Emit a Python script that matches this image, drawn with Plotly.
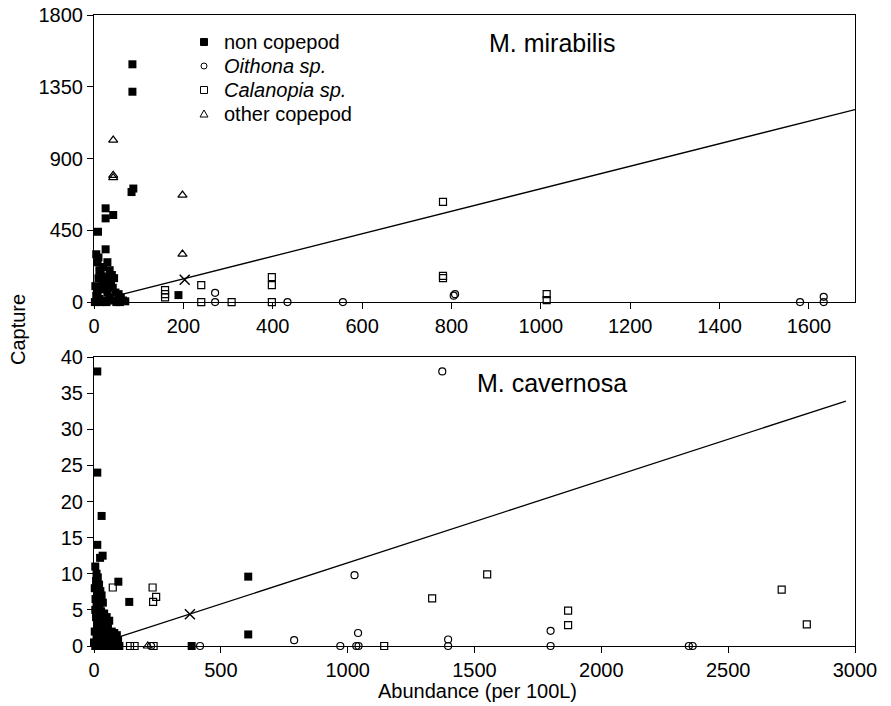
import plotly.graph_objects as go

# ---------------- Data: M. mirabilis (top panel) ----------------
top_noncop_x = [86, 86, 84, 88, 26, 26, 43, 9, 26, 189,
                5, 8, 12, 15, 10, 20, 25, 18, 30, 5, 12, 22, 28, 35, 40, 45, 38, 42,
                48, 35, 45, 50, 55, 60, 65, 58, 70, 3, 8, 15, 2, 25, 30, 10, 20, 33]
top_noncop_y = [1491, 1319, 690, 712, 588, 525, 546, 441, 331, 44,
                300, 250, 200, 180, 150, 120, 100, 80, 60, 40, 20, 10, 0, 200, 170, 150, 120, 90,
                60, 30, 10, 0, 50, 30, 10, 0, 5, 100, 60, 0, 0, 160, 250, 280, 220, 130]
top_oith_x = [271, 271, 433, 557, 805, 808, 1580, 1633, 1633]
top_oith_y = [58, 0, 0, 0, 40, 50, 0, 33, 0]
top_cala_x = [159, 159, 159, 240, 240, 308, 398, 398, 398, 781, 781, 781, 1013, 1013]
top_cala_y = [75, 50, 30, 107, 0, 0, 157, 107, 0, 629, 165, 150, 50, 12]
top_other_x = [43, 43, 43, 198, 198]
top_other_y = [1016, 795, 780, 671, 301]
top_fit_x = [47, 1703]
top_fit_y = [38, 1207]
top_mean_x = [203]
top_mean_y = [140]

# ---------------- Data: M. cavernosa (bottom panel) ----------------
bot_noncop_x = [13, 13, 30, 13, 24, 34, 96, 139, 608, 608, 385,
                5, 10, 15, 8, 20, 3, 12, 25, 18, 6, 30, 10, 22, 35, 5, 15, 28, 40, 50, 8,
                20, 45, 60, 12, 30, 55, 3, 18, 40, 70, 65, 80, 90, 10, 25, 50, 75, 95,
                5, 20, 35, 60, 85, 100, 0]
bot_noncop_y = [38, 24, 18, 14, 12.2, 12.5, 8.9, 6.1, 9.6, 1.6, 0,
                11, 10, 9.5, 9, 8.5, 8, 7.5, 7.6, 7, 6.5, 7, 6, 5.5, 6, 5, 4.5, 4.8, 4.5, 4, 4,
                3.5, 3, 3.5, 3, 2.5, 2.5, 2, 2, 1.8, 2, 1.5, 1.8, 1.5, 1, 1, 1, 1, 0.8,
                0, 0, 0, 0, 0, 0, 0.5]
bot_oith_x = [1373, 1027, 1041, 971, 1034, 1043, 1396, 1396, 1800, 1800, 789, 2345, 2360, 418, 30, 225]
bot_oith_y = [38, 9.8, 1.8, 0, 0, 0, 0.9, 0, 2.1, 0, 0.8, 0, 0, 0, 0, 0]
bot_cala_x = [1550, 1333, 1869, 1869, 1144, 2711, 2810, 74, 231, 245, 233, 142, 160, 235]
bot_cala_y = [9.9, 6.6, 4.9, 2.9, 0, 7.8, 3.0, 8.1, 8.1, 6.8, 6.1, 0, 0, 0]
bot_other_x = [212]
bot_other_y = [0]
bot_fit_x = [60, 2964]
bot_fit_y = [0.8, 33.9]
bot_mean_x = [378]
bot_mean_y = [4.4]

top_xticks = [0, 200, 400, 600, 800, 1000, 1200, 1400, 1600]
top_yticks = [0, 450, 900, 1350, 1800]
bot_xticks = [0, 500, 1000, 1500, 2000, 2500, 3000]
bot_yticks = [0, 5, 10, 15, 20, 25, 30, 35, 40]

legend_labels = ["non copepod", "<i>Oithona sp.</i>", "<i>Calanopia sp.</i>", "other copepod"]

FONT = "Liberation Sans, Arial, Helvetica, sans-serif"
BLACK = "black"

fig = go.Figure()


def add_panel(xa, ya, nc_x, nc_y, oi_x, oi_y, ca_x, ca_y, ot_x, ot_y,
              fx, fy, mx, my):
    fig.add_trace(go.Scatter(x=fx, y=fy, mode="lines", xaxis=xa, yaxis=ya,
                             line=dict(color=BLACK, width=1.3), showlegend=False,
                             hoverinfo="skip"))
    fig.add_trace(go.Scatter(x=nc_x, y=nc_y, mode="markers", xaxis=xa, yaxis=ya,
                             name=legend_labels[0], showlegend=False, cliponaxis=False,
                             marker=dict(symbol="square", size=8, color=BLACK,
                                         line=dict(color=BLACK, width=0))))
    fig.add_trace(go.Scatter(x=oi_x, y=oi_y, mode="markers", xaxis=xa, yaxis=ya,
                             name=legend_labels[1], showlegend=False, cliponaxis=False,
                             marker=dict(symbol="circle-open", size=7, color=BLACK,
                                         line=dict(color=BLACK, width=1.2))))
    fig.add_trace(go.Scatter(x=ca_x, y=ca_y, mode="markers", xaxis=xa, yaxis=ya,
                             name=legend_labels[2], showlegend=False, cliponaxis=False,
                             marker=dict(symbol="square-open", size=7, color=BLACK,
                                         line=dict(color=BLACK, width=1.2))))
    fig.add_trace(go.Scatter(x=ot_x, y=ot_y, mode="markers", xaxis=xa, yaxis=ya,
                             name=legend_labels[3], showlegend=False, cliponaxis=False,
                             marker=dict(symbol="triangle-up-open", size=8, color=BLACK,
                                         line=dict(color=BLACK, width=1.2))))
    fig.add_trace(go.Scatter(x=mx, y=my, mode="markers", xaxis=xa, yaxis=ya,
                             showlegend=False, cliponaxis=False,
                             marker=dict(symbol="x-thin-open", size=10, color=BLACK,
                                         line=dict(color=BLACK, width=1.5))))


add_panel("x", "y", top_noncop_x, top_noncop_y, top_oith_x, top_oith_y,
          top_cala_x, top_cala_y, top_other_x, top_other_y,
          top_fit_x, top_fit_y, top_mean_x, top_mean_y)
add_panel("x2", "y2", bot_noncop_x, bot_noncop_y, bot_oith_x, bot_oith_y,
          bot_cala_x, bot_cala_y, bot_other_x, bot_other_y,
          bot_fit_x, bot_fit_y, bot_mean_x, bot_mean_y)

axis_common = dict(showline=True, linecolor=BLACK, linewidth=1, mirror=True,
                   ticks="outside", ticklen=6, tickcolor=BLACK, showgrid=False,
                   zeroline=False, tickfont=dict(family=FONT, size=20, color=BLACK))

# ---- hand-drawn legend (layout shapes + text), in paper coordinates ----
PLOT_L, PLOT_W, PLOT_B, PLOT_H = 94, 761, 646, 631


def px_x(p):
    return (p - PLOT_L) / PLOT_W


def px_y(p):
    return (PLOT_B - p) / PLOT_H


leg_sym_x = px_x(204)
leg_txt_x = px_x(222)
leg_rows = [42, 66, 90, 114]

shapes = []
shapes.append(dict(type="rect", xref="paper", yref="paper", xsizemode="pixel", ysizemode="pixel",
                   xanchor=leg_sym_x, yanchor=px_y(leg_rows[0]), x0=-3.5, x1=3.5, y0=-3.5, y1=3.5,
                   fillcolor=BLACK, line=dict(color=BLACK, width=1)))
shapes.append(dict(type="circle", xref="paper", yref="paper", xsizemode="pixel", ysizemode="pixel",
                   xanchor=leg_sym_x, yanchor=px_y(leg_rows[1]), x0=-3, x1=3, y0=-3, y1=3,
                   fillcolor="white", line=dict(color=BLACK, width=1)))
shapes.append(dict(type="rect", xref="paper", yref="paper", xsizemode="pixel", ysizemode="pixel",
                   xanchor=leg_sym_x, yanchor=px_y(leg_rows[2]), x0=-3.5, x1=3.5, y0=-3.5, y1=3.5,
                   fillcolor="white", line=dict(color=BLACK, width=1)))
shapes.append(dict(type="path", xref="paper", yref="paper", xsizemode="pixel", ysizemode="pixel",
                   xanchor=leg_sym_x, yanchor=px_y(leg_rows[3]),
                   path="M -4 -3 L 4 -3 L 0 4 Z",
                   fillcolor="white", line=dict(color=BLACK, width=1)))

annotations = []
for lab, row in zip(legend_labels, leg_rows):
    annotations.append(dict(text=lab, x=leg_txt_x, y=px_y(row), xref="paper", yref="paper",
                            xanchor="left", yanchor="middle", showarrow=False,
                            font=dict(family=FONT, size=20, color=BLACK)))

annotations += [
    dict(text="M. mirabilis", x=1024, y=1625, xref="x", yref="y",
         showarrow=False, font=dict(family=FONT, size=25, color=BLACK)),
    dict(text="M. cavernosa", x=1805, y=36.4, xref="x2", yref="y2",
         showarrow=False, font=dict(family=FONT, size=25, color=BLACK)),
    dict(text="Capture", x=px_x(18), y=px_y(330), xref="paper", yref="paper",
         textangle=-90, showarrow=False, xanchor="center", yanchor="middle",
         font=dict(family=FONT, size=20, color=BLACK)),
    dict(text="Abundance (per 100L)", x=px_x(478), y=px_y(691), xref="paper", yref="paper",
         showarrow=False, xanchor="center", yanchor="middle",
         font=dict(family=FONT, size=20, color=BLACK)),
]

fig.update_layout(
    width=891, height=706,
    margin=dict(l=94, r=36, t=15, b=60, autoexpand=False),
    paper_bgcolor="white", plot_bgcolor="white",
    font=dict(family=FONT, size=20, color=BLACK),
    xaxis=dict(domain=[0, 1], anchor="y", range=[0, 1703], tickvals=top_xticks,
               **axis_common),
    yaxis=dict(domain=[0.545, 1], anchor="x", range=[0, 1800], tickvals=top_yticks,
               **axis_common),
    xaxis2=dict(domain=[0, 1], anchor="y2", range=[0, 3000], tickvals=bot_xticks,
                **axis_common),
    yaxis2=dict(domain=[0, 0.458], anchor="x2", range=[0, 40], tickvals=bot_yticks,
                **axis_common),
    showlegend=False,
    shapes=shapes,
    annotations=annotations,
)

fig.write_html("out.html", config={"displayModeBar": False},
               post_script="document.body.style.margin='0px';")
